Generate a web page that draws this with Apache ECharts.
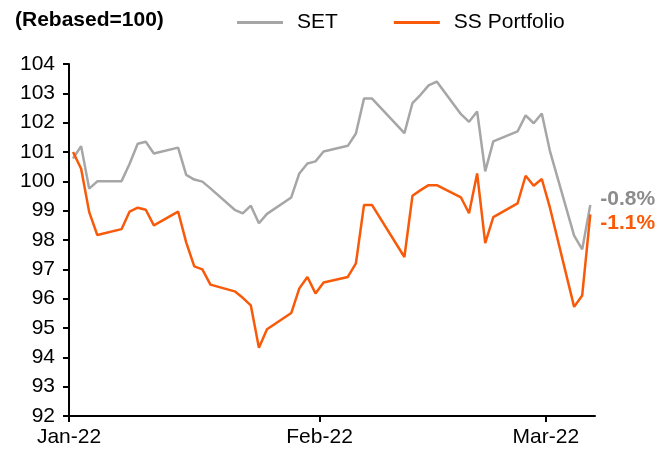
<!DOCTYPE html>
<html>
<head>
<meta charset="utf-8">
<script src="https://cdn.jsdelivr.net/npm/echarts@6/dist/echarts.min.js"></script>
<style>html,body{margin:0;padding:0;background:#fff;}#c{width:672px;height:453px;}</style>
</head>
<body>
<div id="c"></div>
<script>
const dates = ['2022-01-04','2022-01-05','2022-01-06','2022-01-07',
  '2022-01-10','2022-01-11','2022-01-12','2022-01-13','2022-01-14',
  '2022-01-17','2022-01-18','2022-01-19','2022-01-20','2022-01-21',
  '2022-01-24','2022-01-25','2022-01-26','2022-01-27','2022-01-28',
  '2022-01-31','2022-02-01','2022-02-02','2022-02-03','2022-02-04',
  '2022-02-07','2022-02-08','2022-02-09','2022-02-10',
  '2022-02-14','2022-02-15','2022-02-16','2022-02-17','2022-02-18',
  '2022-02-21','2022-02-22','2022-02-23','2022-02-24','2022-02-25',
  '2022-02-28','2022-03-01','2022-03-02','2022-03-03','2022-03-04',
  '2022-03-07','2022-03-08','2022-03-09'];
const setValues = [100.78,101.20,99.75,100.00,
  100.00,100.60,101.28,101.35,100.95,
  101.15,100.22,100.06,99.99,99.76,
  99.03,98.91,99.17,98.57,98.89,
  99.45,100.27,100.61,100.68,101.02,
  101.21,101.63,102.82,102.82,
  101.64,102.67,102.95,103.27,103.40,
  102.29,102.03,102.38,100.34,101.36,
  101.70,102.25,101.98,102.31,101.04,
  98.15,97.68,99.19];
const portfolioValues = [101.00,100.43,98.95,98.17,
  98.37,98.97,99.10,99.03,98.50,
  98.97,97.92,97.10,97.00,96.48,
  96.25,96.03,95.77,94.33,94.96,
  95.51,96.35,96.74,96.18,96.55,
  96.74,97.20,99.19,99.19,
  97.42,99.51,99.70,99.87,99.87,
  99.45,98.91,100.27,97.89,98.78,
  99.25,100.19,99.85,100.08,99.11,
  95.72,96.11,98.87];
const seriesNames = ['SET','SS Portfolio'];
const endLabels = ['-0.8%','-1.1%'];
const xTickDates = ['2022-01-04','2022-02-04','2022-03-04'];
const xTickLabels = ['Jan-22','Feb-22','Mar-22'];
const yTicks = [92,93,94,95,96,97,98,99,100,101,102,103,104];
const title = '(Rebased=100)';

function ts(s, h) { const p = s.split('-').map(Number); return Date.UTC(p[0], p[1]-1, p[2], h || 0); }
const xMin = ts('2022-01-04', 0);
const xMax = ts('2022-03-10', 2);
const tickTs = xTickDates.map(d => ts(d, 0));
const FONT = 'Liberation Sans, Arial, sans-serif';
const GREY = '#A6A6A6', ORANGE = '#F85A0A';

const chart = echarts.init(document.getElementById('c'), null, {renderer: 'canvas'});
chart.setOption({
  animation: false,
  backgroundColor: '#fff',
  title: { text: title, left: 15, top: 10, padding: 0, textStyle: { fontFamily: FONT, fontSize: 21, fontWeight: 'bold', color: '#000' } },
  legend: {
    left: 237, top: 12, padding: 0, icon: 'rect', itemWidth: 46, itemHeight: 3, itemGap: 56,
    data: seriesNames,
    textStyle: { fontFamily: FONT, fontSize: 21, color: '#000', padding: [0,0,0,9] }
  },
  grid: { left: 69, top: 64, width: 526, height: 352, containLabel: false },
  xAxis: {
    type: 'value', min: xMin, max: xMax,
    axisLine: { lineStyle: { color: '#000', width: 2 } },
    axisTick: { show: true, customValues: tickTs, length: 6, lineStyle: { color: '#000', width: 2 } },
    axisLabel: { customValues: tickTs, margin: 11, fontFamily: FONT, fontSize: 21, color: '#000',
      formatter: v => { const i = tickTs.indexOf(v); return i >= 0 ? xTickLabels[i] : ''; } },
    splitLine: { show: false }
  },
  yAxis: {
    type: 'value', min: yTicks[0], max: yTicks[yTicks.length-1], interval: 1,
    axisLine: { show: true, lineStyle: { color: '#000', width: 2 } },
    axisTick: { show: true, length: 6, lineStyle: { color: '#000', width: 2 } },
    axisLabel: { margin: 14, fontFamily: FONT, fontSize: 21, color: '#000' },
    splitLine: { show: false }
  },
  series: [
    { name: seriesNames[0], type: 'line', showSymbol: false, symbol: 'none',
      data: dates.map((d, i) => [ts(d, 12), setValues[i]]),
      lineStyle: { color: GREY, width: 2.5 }, itemStyle: { color: GREY },
      endLabel: { show: true, formatter: endLabels[0], distance: 10, offset: [0, -6],
        fontFamily: FONT, fontSize: 21, fontWeight: 'bold', color: '#8C8C8C' } },
    { name: seriesNames[1], type: 'line', showSymbol: false, symbol: 'none',
      data: dates.map((d, i) => [ts(d, 12), portfolioValues[i]]),
      lineStyle: { color: ORANGE, width: 2.5 }, itemStyle: { color: ORANGE },
      endLabel: { show: true, formatter: endLabels[1], distance: 10, offset: [0, 9],
        fontFamily: FONT, fontSize: 21, fontWeight: 'bold', color: ORANGE } }
  ]
});
</script>
</body>
</html>
